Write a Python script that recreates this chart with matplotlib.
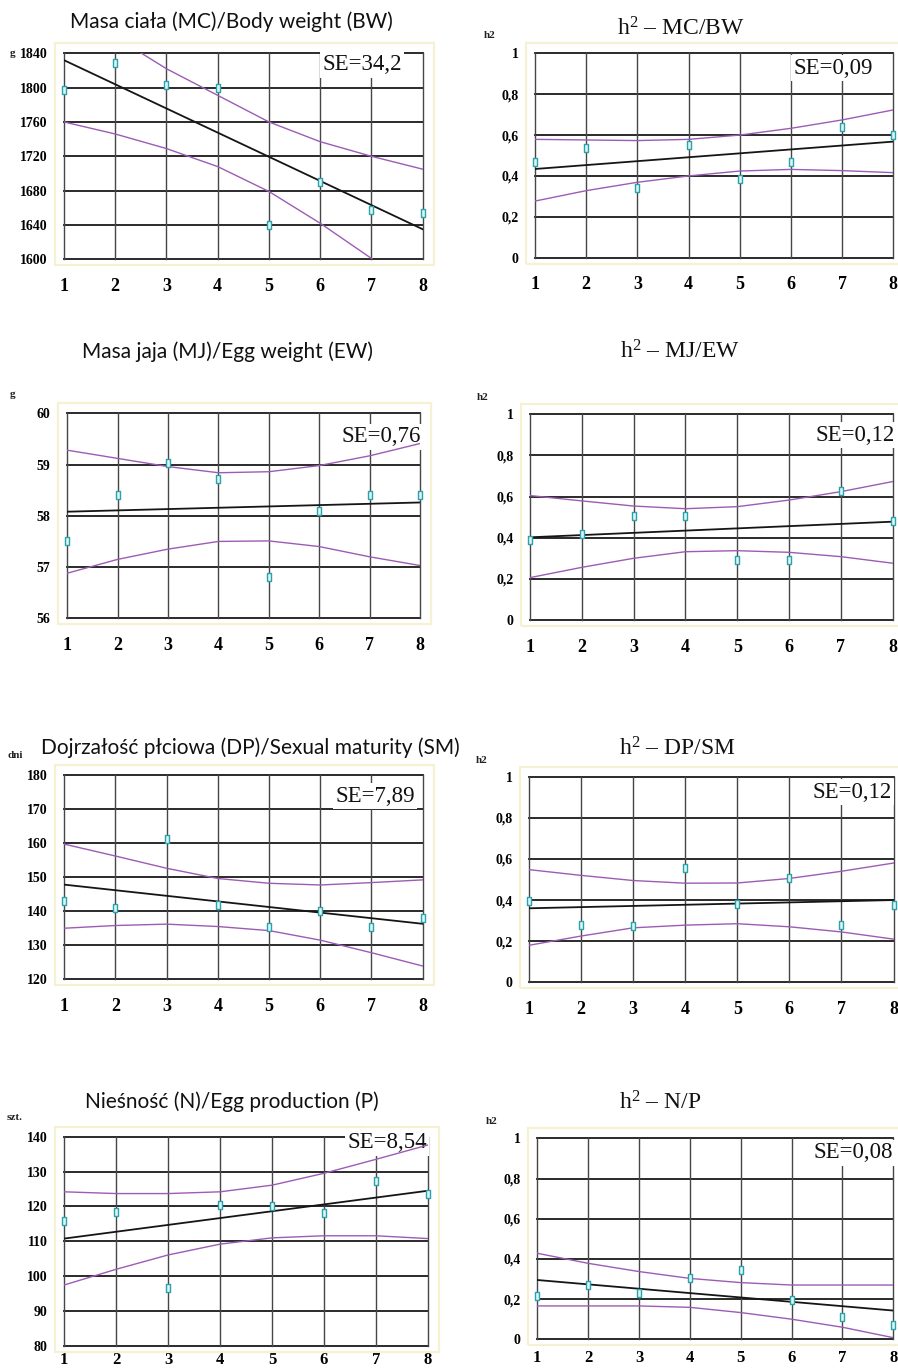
import matplotlib
matplotlib.use("Agg")
import matplotlib.pyplot as plt
from matplotlib.path import Path
from matplotlib.patches import Rectangle

plt.rcParams['mathtext.fontset'] = 'custom'
plt.rcParams['mathtext.rm'] = 'Liberation Serif'
plt.rcParams['mathtext.it'] = 'Liberation Serif'

W, H = 898, 1372

# ---------------- data ----------------
generations = [1, 2, 3, 4, 5, 6, 7, 8]
fit_x = [1, 8]

# Body weight (BW)
bw_points = [1797, 1829, 1803, 1799, 1640, 1690, 1657, 1654]
bw_fit = [1832, 1635]
bw_upper = [1896, 1859, 1822, 1791, 1760, 1737, 1720, 1705]
bw_lower = [1760, 1746, 1729, 1708, 1679, 1642, 1601, 1560]
bw_yticks = [1600, 1640, 1680, 1720, 1760, 1800, 1840]

# h2 BW
h2bw_points = [0.47, 0.538, 0.339, 0.551, 0.385, 0.467, 0.641, 0.60]
h2bw_fit = [0.434, 0.568]
h2bw_upper = [0.579, 0.576, 0.573, 0.579, 0.60, 0.633, 0.674, 0.723]
h2bw_lower = [0.277, 0.328, 0.369, 0.40, 0.424, 0.432, 0.426, 0.416]

# Egg weight (EW)
ew_points = [57.51, 58.41, 59.04, 58.72, 56.80, 58.09, 58.41, 58.41]
ew_fit = [58.08, 58.26]
ew_upper = [59.28, 59.12, 58.96, 58.84, 58.86, 58.98, 59.17, 59.41]
ew_lower = [56.88, 57.15, 57.35, 57.50, 57.51, 57.40, 57.20, 57.03]
ew_yticks = [56, 57, 58, 59, 60]

# h2 EW
h2ew_points = [0.389, 0.417, 0.507, 0.507, 0.292, 0.292, 0.627, 0.481]
h2ew_fit = [0.402, 0.478]
h2ew_upper = [0.605, 0.579, 0.554, 0.541, 0.551, 0.583, 0.624, 0.673]
h2ew_lower = [0.206, 0.256, 0.30, 0.332, 0.337, 0.329, 0.308, 0.276]

# Sexual maturity (SM)
sm_points = [143.0, 140.8, 161.1, 141.8, 135.5, 140.1, 135.5, 137.9]
sm_fit = [147.8, 136.3]
sm_upper = [159.7, 156.2, 152.6, 149.6, 148.2, 147.7, 148.4, 149.2]
sm_lower = [135.0, 135.8, 136.2, 135.5, 134.3, 131.5, 127.8, 123.9]
sm_yticks = [120, 130, 140, 150, 160, 170, 180]

# h2 SM
h2sm_points = [0.397, 0.279, 0.274, 0.558, 0.381, 0.506, 0.279, 0.376]
h2sm_fit = [0.36, 0.40]
h2sm_upper = [0.548, 0.52, 0.495, 0.482, 0.483, 0.505, 0.54, 0.58]
h2sm_lower = [0.18, 0.225, 0.265, 0.278, 0.285, 0.27, 0.245, 0.21]

# Egg production (P)
ep_points = [115.9, 118.5, 96.5, 120.4, 120.1, 118.0, 127.3, 123.5]
ep_fit = [110.8, 124.5]
ep_upper = [124.2, 123.7, 123.7, 124.2, 126.1, 129.5, 133.5, 137.6]
ep_lower = [97.5, 102.0, 106.1, 109.2, 111.0, 111.6, 111.6, 110.8]
ep_yticks = [80, 90, 100, 110, 120, 130, 140]

# h2 P
h2ep_points = [0.216, 0.27, 0.229, 0.303, 0.345, 0.196, 0.109, 0.071]
h2ep_fit = [0.295, 0.143]
h2ep_upper = [0.428, 0.378, 0.337, 0.303, 0.282, 0.27, 0.27, 0.27]
h2ep_lower = [0.166, 0.166, 0.166, 0.159, 0.133, 0.10, 0.06, 0.008]

h2_yticks = [0, 0.2, 0.4, 0.6, 0.8, 1]
h2_yticklabels = ["0", "0,2", "0,4", "0,6", "0,8", "1"]

titles = ["Masa ciała (MC)/Body weight (BW)", r"h$^{2}$ – MC/BW",
          "Masa jaja (MJ)/Egg weight (EW)", r"h$^{2}$ – MJ/EW",
          "Dojrzałość płciowa (DP)/Sexual maturity (SM)", r"h$^{2}$ – DP/SM",
          "Nieśność (N)/Egg production (P)", r"h$^{2}$ – N/P"]
se_texts = ["SE=34,2", "SE=0,09", "SE=0,76", "SE=0,12",
            "SE=7,89", "SE=0,12", "SE=8,54", "SE=0,08"]
units = ["g", "h2", "g", "h2", "dni", "h2", "szt.", "h2"]

# ---------------- layout (pixels) ----------------
# left(x=1), right(x=8), top, bottom
boxes = [(64, 422.7, 53.3, 259.3), (535, 893.3, 53.3, 257.7),
         (67.3, 420, 413.3, 618.3), (530, 892.7, 414.3, 620),
         (64.3, 422.7, 775, 979.3), (529, 893.5, 776.7, 982.3),
         (64.3, 427.7, 1136.7, 1346), (537.3, 893.3, 1138.3, 1339.3)]
xpads = [13.5, 13.5, 13.5, 13.5, 13.5, 13.5, 4, 8]
title_pos = [(231, 22), (681, 29), (228, 352), (680, 352),
             (250, 748), (677, 749), (232, 1102), (660, 1103)]
se_pos = [(402, 65), (873, 68), (421, 437), (895, 435),
          (415, 796), (892, 792), (427, 1143), (893, 1153)]
unit_pos = [(13, 53), (490, 35), (13, 395), (483, 398),
            (15, 755), (482, 760), (15, 1118), (492, 1122)]

panels = [
    (bw_points, bw_fit, bw_upper, bw_lower, bw_yticks, None),
    (h2bw_points, h2bw_fit, h2bw_upper, h2bw_lower, h2_yticks, h2_yticklabels),
    (ew_points, ew_fit, ew_upper, ew_lower, ew_yticks, None),
    (h2ew_points, h2ew_fit, h2ew_upper, h2ew_lower, h2_yticks, h2_yticklabels),
    (sm_points, sm_fit, sm_upper, sm_lower, sm_yticks, None),
    (h2sm_points, h2sm_fit, h2sm_upper, h2sm_lower, h2_yticks, h2_yticklabels),
    (ep_points, ep_fit, ep_upper, ep_lower, ep_yticks, None),
    (h2ep_points, h2ep_fit, h2ep_upper, h2ep_lower, h2_yticks, h2_yticklabels),
]

PURPLE = '#9d5cb4'
TEAL = '#2aa2aa'
rect_marker = Path([(-0.5, -1), (0.5, -1), (0.5, 1), (-0.5, 1), (-0.5, -1)],
                   [Path.MOVETO, Path.LINETO, Path.LINETO, Path.LINETO, Path.CLOSEPOLY])

def fx(px):
    return px / W

def fy(py):
    return 1 - py / H

fig = plt.figure(figsize=(W / 100, H / 100), dpi=100)
fig.patch.set_facecolor('white')

for i, (pts, fit, up, lo, yt, ytl) in enumerate(panels):
    l, r, t, b = boxes[i]
    # faint cream frame around plot area
    fig.patches.append(Rectangle((fx(l - 9), fy(b + 6)), fx(r - l + 20), (b - t + 16) / H,
                                 transform=fig.transFigure, facecolor='none',
                                 edgecolor='#f6f1d2', linewidth=1.6, zorder=0))
    ax = fig.add_axes([fx(l), fy(b), fx(r - l), (b - t) / H])
    ax.set_xlim(1, 8)
    ax.set_ylim(yt[0], yt[-1])
    for s in ax.spines.values():
        s.set_visible(False)
    ax.set_xticks(generations)
    ax.set_yticks(yt)
    if ytl is not None:
        ax.set_yticklabels(ytl)
    else:
        ax.set_yticklabels([str(v) for v in yt])
    ax.tick_params(length=0)
    ax.tick_params(axis='y', pad=12)
    ax.tick_params(axis='x', pad=xpads[i])
    for lab in ax.get_yticklabels():
        lab.set_fontfamily('Liberation Serif')
        lab.set_fontweight('bold')
        lab.set_fontsize(10)
    for lab in ax.get_xticklabels():
        lab.set_fontfamily('Liberation Serif')
        lab.set_fontweight('bold')
        lab.set_fontsize(13 if i < 6 else 12)
    for v in yt:
        ax.axhline(v, color='#222222', linewidth=1.35, zorder=1, clip_on=False)
    for g in generations:
        ax.axvline(g, color='#464646', linewidth=1.0, zorder=1, clip_on=False)

    ax.text(fx(se_pos[i][0]), fy(se_pos[i][1]), se_texts[i], transform=fig.transFigure,
            ha='right', va='center', fontfamily='Liberation Serif', fontsize=16.5,
            color='#111111', zorder=1.5,
            bbox=dict(facecolor='white', edgecolor='none', pad=1.5))

    ax.plot(generations, up, color=PURPLE, linewidth=1.0, zorder=2)
    ax.plot(generations, lo, color=PURPLE, linewidth=1.0, zorder=2)
    ax.plot(fit_x, fit, color='#151515', linewidth=1.3, zorder=3)
    ax.plot(generations, pts, linestyle='none', marker=rect_marker, markersize=6,
            markerfacecolor='#dff5f5', markeredgecolor=TEAL, markeredgewidth=1.0,
            zorder=4, clip_on=False)

    if i % 2 == 0:
        fig.text(fx(title_pos[i][0]), fy(title_pos[i][1]), titles[i], ha='center', va='center',
                 fontfamily='Lato', fontsize=15, color='#111111')
    else:
        fig.text(fx(title_pos[i][0]), fy(title_pos[i][1]), titles[i], ha='center', va='center',
                 fontfamily='Liberation Serif', fontsize=17, color='#111111')
    fig.text(fx(unit_pos[i][0]), fy(unit_pos[i][1]), units[i], ha='center', va='center',
             fontfamily='Liberation Serif', fontweight='bold', fontsize=8, color='#222222')

fig.savefig('out.png', dpi=100, facecolor='white')
